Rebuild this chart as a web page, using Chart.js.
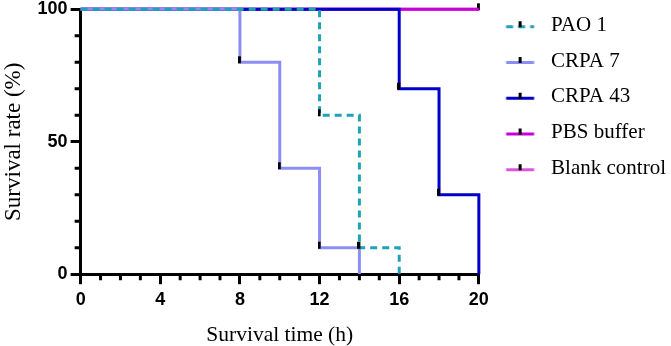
<!DOCTYPE html>
<html>
<head>
<meta charset="utf-8">
<script src="https://cdn.jsdelivr.net/npm/chart.js@4.4.1/dist/chart.umd.min.js"></script>
<style>
  body { margin: 0; background: #fff; }
</style>
</head>
<body>
<canvas id="survivalChart" width="671" height="346"></canvas>
<script>
// data (time in h, survival in %)
var seriesNames = ['PAO 1', 'CRPA 7', 'CRPA 43', 'PBS buffer', 'Blank control'];
var pao1Time = [0, 12, 14, 16];
var pao1Surv = [100, 60, 10, 0];
var pao1Censor = [0, 1, 1, 0];
var crpa7Time = [0, 8, 10, 12, 14];
var crpa7Surv = [100, 80, 40, 10, 0];
var crpa7Censor = [0, 1, 1, 1, 0];
var crpa43Time = [0, 16, 18, 20];
var crpa43Surv = [100, 70, 30, 0];
var crpa43Censor = [0, 1, 1, 0];
var pbsTime = [0, 20];
var pbsSurv = [100, 100];
var pbsCensor = [0, 0];
var blankTime = [0, 20];
var blankSurv = [100, 100];
var blankCensor = [0, 1];
var xTickLabels = [0, 4, 8, 12, 16, 20];
var yTickLabels = [0, 50, 100];

var colors = ['#1ea2b6', '#8d8df6', '#0000c8', '#c800d8', '#dc55dc'];
var dashes = [[7, 5], [], [], [], []];

Chart.defaults.font.family = 'Liberation Serif';
Chart.defaults.color = '#000';

// small black censor tick pointing up from the point
function censorMark() {
    var c = document.createElement('canvas');
    c.width = 4; c.height = 14;
    var g = c.getContext('2d');
    g.fillStyle = '#000';
    g.fillRect(0, 1, 3, 7);
    return c;
}
var mark = censorMark();

// legend swatch: line sample with a censor tick, sitting in the right part of the box
function legendSample(color, dash) {
    var c = document.createElement('canvas');
    c.width = 47; c.height = 14;
    var g = c.getContext('2d');
    g.strokeStyle = color;
    g.lineWidth = 3;
    g.setLineDash(dash);
    g.beginPath();
    g.moveTo(12.5, 8.5);
    g.lineTo(40.5, 8.5);
    g.stroke();
    g.fillStyle = '#000';
    g.fillRect(25, 3, 3, 6);
    return c;
}

function toPoints(t, s) {
    return t.map(function (v, i) { return { x: v, y: s[i] }; });
}

function makeSet(i, t, s, censor) {
    return {
        label: seriesNames[i],
        data: toPoints(t, s),
        borderColor: colors[i],
        backgroundColor: colors[i],
        borderWidth: 3,
        borderDash: dashes[i],
        stepped: true,
        tension: 0,
        fill: false,
        clip: false,
        pointStyle: mark,
        pointRadius: censor.map(function (c) { return c ? 4 : 0; }),
        pointHoverRadius: 0,
        order: i
    };
}

var datasets = [
    makeSet(0, pao1Time, pao1Surv, pao1Censor),
    makeSet(1, crpa7Time, crpa7Surv, crpa7Censor),
    makeSet(2, crpa43Time, crpa43Surv, crpa43Censor),
    makeSet(3, pbsTime, pbsSurv, pbsCensor),
    makeSet(4, blankTime, blankSurv, blankCensor)
];

// minor ticks (every 1 h on x, every 10 % on y)
var minorTicks = {
    id: 'minorTicks',
    afterDraw: function (chart) {
        var ctx = chart.ctx;
        var xs = chart.scales.x, ys = chart.scales.y;
        var area = chart.chartArea;
        ctx.save();
        ctx.strokeStyle = '#000';
        ctx.lineWidth = 3;
        ctx.beginPath();
        for (var v = 0; v <= 20; v++) {
            if (xTickLabels.indexOf(v) >= 0) continue;
            var px = xs.getPixelForValue(v);
            ctx.moveTo(px, area.bottom);
            ctx.lineTo(px, area.bottom + 6);
        }
        for (var w = 0; w <= 100; w += 10) {
            if (yTickLabels.indexOf(w) >= 0) continue;
            var py = ys.getPixelForValue(w);
            ctx.moveTo(area.left, py);
            ctx.lineTo(area.left - 6, py);
        }
        ctx.stroke();
        ctx.restore();
    }
};

var ctx = document.getElementById('survivalChart').getContext('2d');
var chart = new Chart(ctx, {
    type: 'line',
    data: { datasets: datasets },
    plugins: [minorTicks],
    options: {
        responsive: false,
        animation: false,
        layout: { padding: { top: 0, right: -5, bottom: 0, left: 0 } },
        plugins: {
            tooltip: { enabled: false },
            legend: {
                position: 'right',
                align: 'start',
                maxWidth: 240,
                labels: {
                    usePointStyle: true,
                    pointStyleWidth: 47,
                    padding: 14.75,
                    font: { family: 'Liberation Serif', size: 21 },
                    color: '#000',
                    generateLabels: function (chart) {
                        return chart.data.datasets.map(function (ds, i) {
                            return {
                                text: ds.label,
                                pointStyle: legendSample(colors[i], dashes[i]),
                                fillStyle: 'transparent',
                                strokeStyle: 'transparent',
                                lineWidth: 0,
                                fontColor: '#000',
                                datasetIndex: i
                            };
                        });
                    }
                }
            }
        },
        scales: {
            x: {
                type: 'linear',
                min: 0,
                max: 20,
                border: { color: '#000', width: 3 },
                grid: {
                    drawOnChartArea: false,
                    tickLength: 10,
                    lineWidth: 3,
                    tickWidth: 3,
                    tickColor: function (c) {
                        return c.tick && xTickLabels.indexOf(c.tick.value) >= 0 ? '#000' : 'rgba(0,0,0,0)';
                    }
                },
                ticks: {
                    stepSize: 1,
                    autoSkip: false,
                    maxRotation: 0,
                    padding: 7,
                    font: { family: 'Liberation Sans', size: 18, weight: 'bold', lineHeight: 1 },
                    callback: function (v) { return xTickLabels.indexOf(v) >= 0 ? String(v) : ''; }
                },
                title: {
                    display: true,
                    text: 'Survival time (h)',
                    font: { family: 'Liberation Serif', size: 21.5 },
                    padding: { top: 6, bottom: -2 }
                }
            },
            y: {
                min: 0,
                max: 100,
                border: { color: '#000', width: 3 },
                grid: {
                    drawOnChartArea: false,
                    tickLength: 10,
                    lineWidth: 3,
                    tickWidth: 3,
                    tickColor: function (c) {
                        return c.tick && yTickLabels.indexOf(c.tick.value) >= 0 ? '#000' : 'rgba(0,0,0,0)';
                    }
                },
                ticks: {
                    stepSize: 10,
                    autoSkip: false,
                    padding: 3,
                    font: { family: 'Liberation Sans', size: 18, weight: 'bold', lineHeight: 0.7 },
                    callback: function (v) { return yTickLabels.indexOf(v) >= 0 ? String(v) : ''; }
                },
                title: {
                    display: true,
                    text: 'Survival rate (%)',
                    font: { family: 'Liberation Serif', size: 23 },
                    padding: { top: 0, bottom: 7 }
                }
            }
        }
    }
});
</script>
</body>
</html>
